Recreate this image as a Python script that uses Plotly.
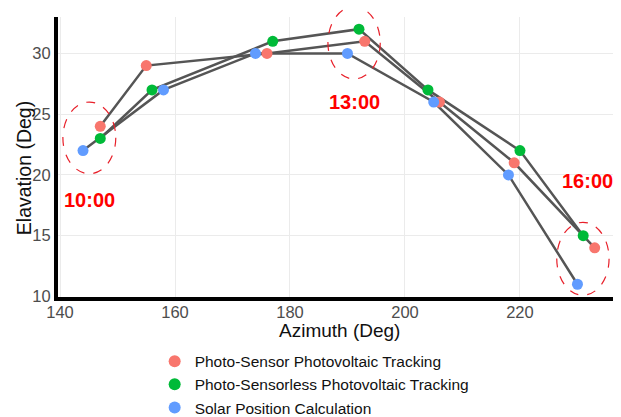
import plotly.graph_objects as go

# Data (azimuth, elevation) for each method
series_names = ["Photo-Sensor Photovoltaic Tracking",
                "Photo-Sensorless Photovoltaic Tracking",
                "Solar Position Calculation"]
sensor_az = [147, 155, 176, 193, 206, 219, 233]
sensor_el = [24, 29, 30, 31, 26, 21, 14]
sensorless_az = [147, 156, 177, 192, 204, 220, 231]
sensorless_el = [23, 27, 31, 32, 27, 22, 15]
calc_az = [144, 158, 174, 190, 205, 218, 230]
calc_el = [22, 27, 30, 30, 26, 20, 11]
colors = ["#F8766D", "#00BA38", "#619CFF"]

time_labels = ["10:00", "13:00", "16:00"]
label_az = [145.2, 191.3, 231.7]
label_el = [17.9, 26.0, 19.5]
# ellipse bounds in data units (az0, az1, el0, el1)
ellipses = [(140.5, 149.7, 20.1, 26.0),
            (186.6, 195.7, 27.9, 33.85),
            (226.4, 235.5, 10.1, 16.1)]

x_title = "Azimuth (Deg)"
y_title = "Elavation (Deg)"

XR = [139.65, 237.4]
YR = [9.95, 33.0]

fig = go.Figure()
all_az = [sensor_az, sensorless_az, calc_az]
all_el = [sensor_el, sensorless_el, calc_el]
for az, el in zip(all_az, all_el):
    fig.add_trace(go.Scatter(x=az, y=el, mode="lines",
                             line=dict(color="#555555", width=2.5),
                             showlegend=False, hoverinfo="skip"))
for name, az, el, c in zip(series_names, all_az, all_el, colors):
    fig.add_trace(go.Scatter(x=az, y=el, mode="markers", name=name,
                             marker=dict(color=c, size=11)))

def px(v):
    return (v - XR[0]) / (XR[1] - XR[0])

def py(v):
    return (v - YR[0]) / (YR[1] - YR[0])

for (a0, a1, e0, e1) in ellipses:
    fig.add_shape(type="circle", xref="paper", yref="paper",
                  x0=px(a0), x1=px(a1), y0=py(e0), y1=py(e1),
                  line=dict(color="#E8202A", width=1.2, dash="dash"))

for t, a, e in zip(time_labels, label_az, label_el):
    fig.add_annotation(x=a, y=e, text="<b>" + t + "</b>", showarrow=False,
                       xanchor="center", yanchor="middle",
                       font=dict(color="#FF0000", size=20, family="Liberation Sans"))

# axis titles as paper annotations for exact placement
fig.add_annotation(x=0.5, y=-0.121, xref="paper", yref="paper", text=x_title,
                   xanchor="center", yanchor="middle",
                   showarrow=False, font=dict(size=19, color="#111111"))
fig.add_annotation(x=-0.0605, y=0.46, xref="paper", yref="paper", text=y_title,
                   xanchor="center", yanchor="middle",
                   textangle=-90, showarrow=False, font=dict(size=19.5, color="#111111"))

# the page body adds an 8px margin, so the figure is sized to fit the window
fig.update_layout(
    width=613, height=409,
    margin=dict(l=50, r=1, t=9, b=120, autoexpand=False),
    plot_bgcolor="white", paper_bgcolor="white",
    font=dict(family="Liberation Sans", color="#444444", size=16),
    legend=dict(x=0.172, y=-0.17, xanchor="left", yanchor="top",
                font=dict(size=15.5, color="#111111"), tracegroupgap=0,
                itemsizing="constant"),
    xaxis=dict(range=XR, tickvals=[140, 160, 180, 200, 220], automargin=False,
               showgrid=True, gridcolor="#EBEBEB", gridwidth=1,
               showline=True, linecolor="black", linewidth=4,
               zeroline=False, ticks="", ticklen=0, ticklabelstandoff=-3,
               tickfont=dict(size=16.5, color="#4D4D4D")),
    yaxis=dict(range=YR, tickvals=[10, 15, 20, 25, 30], automargin=False,
               showgrid=True, gridcolor="#EBEBEB", gridwidth=1,
               showline=True, linecolor="black", linewidth=4,
               zeroline=False, ticks="",
               tickfont=dict(size=16.5, color="#4D4D4D")),
)

fig.write_html("out.html")
